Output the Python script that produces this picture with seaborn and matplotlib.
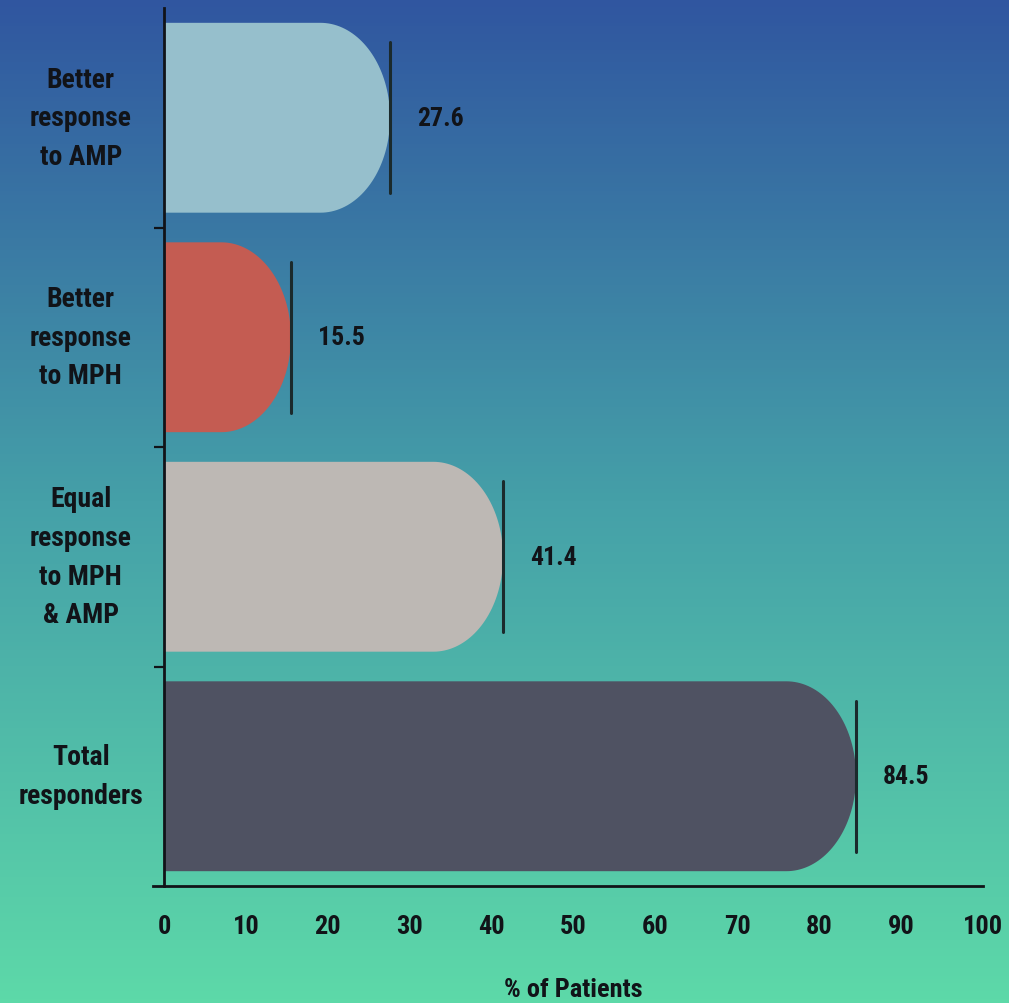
import numpy as np
import pandas as pd
import matplotlib
matplotlib.use("Agg")
import matplotlib.pyplot as plt
from matplotlib import font_manager
from matplotlib.path import Path
from matplotlib.patches import PathPatch
from matplotlib.colors import LinearSegmentedColormap
import seaborn as sns

# Data
categories = ["Better\nresponse\nto AMP", "Better\nresponse\nto MPH",
              "Equal\nresponse\nto MPH\n& AMP", "Total\nresponders"]
values = [27.6, 15.5, 41.4, 84.5]
bar_colors = ["#96bfcc", "#c45c52", "#bdb8b4", "#4f5262"]
x_ticks = list(range(0, 101, 10))
x_label = "% of Patients"

sns.set_theme(style="white")
installed = {f.name for f in font_manager.fontManager.ttflist}
families = [f for f in ["Liberation Sans Narrow", "Roboto Condensed", "Roboto", "DejaVu Sans"]
            if f in installed]
plt.rcParams["font.family"] = families
plt.rcParams["font.weight"] = "bold"

text_color = "#111318"
fig = plt.figure(figsize=(10.09, 10.04), dpi=100)

# Vertical gradient backdrop across the whole figure
bg = fig.add_axes([0, 0, 1, 1], zorder=0)
cmap = LinearSegmentedColormap.from_list(
    "bg", [(0.0, "#3056a0"), (0.5, "#45a0a8"), (1.0, "#5dd9a8")])
grad = np.linspace(0, 1, 256).reshape(-1, 1)
bg.imshow(grad, aspect="auto", cmap=cmap, extent=[0, 1, 0, 1], origin="upper")
bg.set_axis_off()

ax = fig.add_axes([164 / 1009, 1 - 887 / 1004, 819 / 1009, 878 / 1004], zorder=1)
ax.patch.set_alpha(0)

df = pd.DataFrame({"category": categories, "value": values})
sns.barplot(data=df, x="value", y="category", hue="category", palette=bar_colors,
            orient="h", width=0.865, legend=False, ax=ax, saturation=1)

ax.set_xlim(0, 100)
ax.set_ylim(3.5, -0.5)

# Replace each rectangle with a bar whose right end is a half-ellipse
cap = 8.5
for patch, val, col in zip(ax.patches, values, bar_colors):
    x0 = patch.get_x()
    y0 = patch.get_y()
    h = patch.get_height()
    x1 = x0 + patch.get_width()
    yc = y0 + h / 2
    ry = h / 2
    t = np.linspace(-np.pi / 2, np.pi / 2, 80)
    arc_x = x1 - cap + cap * np.cos(t)
    arc_y = yc + ry * np.sin(t)
    verts = [(x0, y0)] + list(zip(arc_x, arc_y)) + [(x0, y0 + h), (x0, y0)]
    codes = [Path.MOVETO] + [Path.LINETO] * (len(verts) - 2) + [Path.CLOSEPOLY]
    ax.add_patch(PathPatch(Path(verts, codes), facecolor=col, edgecolor="none", zorder=2))
    patch.set_visible(False)
    # marker line at the bar's value, and the value label
    ax.plot([x1, x1], [yc - 0.343, yc + 0.343], color="#1b2a2c", lw=2.2, zorder=3)
    ax.text(x1 + 3.3, yc, f"{val}", ha="left", va="center", fontsize=18.5,
            fontweight="bold", color=text_color, zorder=4)

for s in ["top", "right"]:
    ax.spines[s].set_visible(False)
for s in ["left", "bottom"]:
    ax.spines[s].set_color(text_color)
    ax.spines[s].set_linewidth(2)
# x axis line runs a little past the left spine
ax.spines["bottom"].set_bounds(-1.3, 100)
ax.spines["bottom"].set_clip_on(False)

ax.set_xticks(x_ticks)
ax.set_xticklabels([str(v) for v in x_ticks])
ax.tick_params(axis="x", direction="out", length=10, width=1.6, color=text_color,
               pad=10, labelsize=19, labelcolor=text_color)
ax.set_yticks(range(len(categories)))
ax.set_yticklabels(categories, ha="center", va="center", linespacing=1.55)
ax.set_yticks([0.5, 1.5, 2.5], minor=True)
ax.tick_params(axis="y", which="major", length=0, pad=60, labelsize=20,
               labelcolor=text_color)
ax.tick_params(axis="y", which="minor", left=True, direction="out", length=7,
               width=1.6, color=text_color)
ax.set_xlabel(x_label, fontsize=19, fontweight="bold", color=text_color, labelpad=28)
ax.set_ylabel("")

fig.savefig("out.png", dpi=100)
